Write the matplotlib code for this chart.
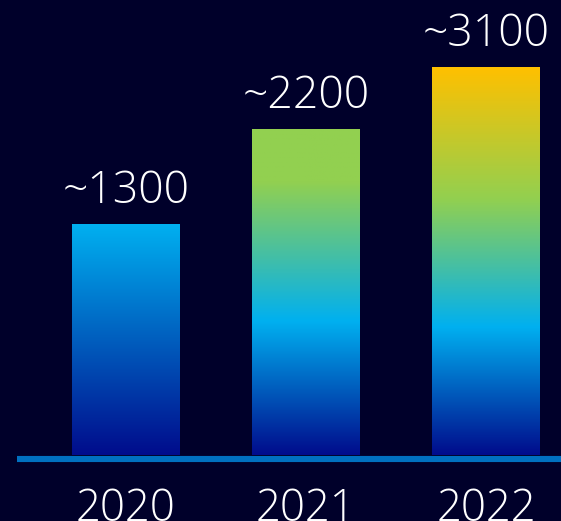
import numpy as np
import matplotlib
matplotlib.use("Agg")
import matplotlib.pyplot as plt
from matplotlib.colors import LinearSegmentedColormap
from matplotlib.patches import Rectangle

# Data
years = ["2020", "2021", "2022"]
value_labels = ["~1300", "~2200", "~3100"]
bar_heights = [59.5, 84.0, 100.0]   # relative bar heights (tallest = 100)

# gradient stops per bar (fraction of bar height, colour)
gradients = [
    [(0.0, "#000c8c"), (1.0, "#00b0f0")],
    [(0.0, "#000c8c"), (0.41, "#00b0f0"), (0.84, "#92d050"), (1.0, "#92d050")],
    [(0.0, "#000c8c"), (0.33, "#00b0f0"), (0.66, "#92d050"), (1.0, "#ffc000")],
]

bg = "#00002a"
plt.rcParams["font.family"] = ["Open Sans", "DejaVu Sans"]

fig = plt.figure(figsize=(5.61, 5.21), dpi=100, facecolor=bg)
ax = fig.add_axes([0, 0, 1, 1])
ax.set_facecolor(bg)
ax.axis("off")

width = 0.6
x = np.arange(len(years))
for i, (h, stops) in enumerate(zip(bar_heights, gradients)):
    cmap = LinearSegmentedColormap.from_list(f"g{i}", stops)
    grad = np.linspace(0, 1, 256).reshape(-1, 1)
    left = x[i] - width / 2
    im = ax.imshow(grad, cmap=cmap, origin="lower", aspect="auto",
                   extent=[left, left + width, 0, h], zorder=2)
    rect = Rectangle((left, 0), width, h, facecolor="none", edgecolor="none")
    ax.add_patch(rect)
    im.set_clip_path(rect)
    ax.annotate(value_labels[i], (x[i], h), xytext=(0, 15), textcoords="offset points",
                ha="center", va="baseline", color="white", fontsize=32,
                fontweight="light", zorder=3)
    ax.text(x[i], -17.01, years[i], ha="center", va="baseline", color="white",
            fontsize=31.5, fontweight="light", zorder=3)

ax.plot([-0.6056, 2.4167], [-1.03, -1.03], color="#0070c0", lw=4.4,
        solid_capstyle="butt", zorder=4)

ax.set_xlim(-0.7, 2.4167)
ax.set_ylim(-17.01, 117.27)
fig.savefig("out.png", dpi=100, facecolor=bg)
